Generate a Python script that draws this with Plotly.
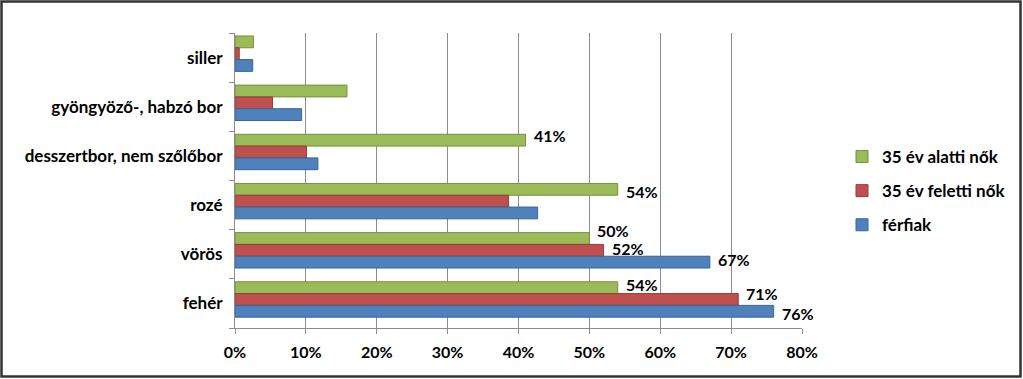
import plotly.graph_objects as go

categories = ["fehér", "vörös", "rozé", "desszertbor, nem szőlőbor", "gyöngyöző-, habzó bor", "siller"]
ferfiak = [76, 67, 42.7, 11.7, 9.4, 2.5]
felett_nok = [71, 52, 38.6, 10.1, 5.3, 0.6]
alatti_nok = [54, 50, 54, 41, 15.8, 2.6]
ferfiak_lbl = ["76%", "67%", "", "", "", ""]
felett_lbl = ["71%", "52%", "", "", "", ""]
alatti_lbl = ["54%", "50%", "54%", "41%", "", ""]
x_ticks = [0, 10, 20, 30, 40, 50, 60, 70, 80]

# label vertical nudges in pixels (layout only)
ferfiak_dy = [-5, 0, 0, 0, 0, 0]
felett_dy = [3, -1, 0, 0, 0, 0]
alatti_dy = [0, 5, -5, 2, 0, 0]

FONT = "Lato"
L, R, T, B = 235, 221, 33, 51
W, H = 1023, 379
pw, ph = W - L - R, H - T - B
band = ph / len(categories)
BW = 0.24

fig = go.Figure()
series = [
    ("35 év alatti nők", alatti_nok, alatti_lbl, alatti_dy, "#9BBB59", "#76903F", 0.20),
    ("35 év feletti nők", felett_nok, felett_lbl, felett_dy, "#C0504D", "#943C3A", -0.04),
    ("férfiak", ferfiak, ferfiak_lbl, ferfiak_dy, "#4F81BD", "#3A6496", -0.28),
]
annotations = []
for i, (name, vals, lbl, dy, col, edge, off) in enumerate(series):
    fig.add_trace(go.Bar(
        y=categories, x=vals, name=name, orientation="h",
        offset=off, width=BW,
        marker=dict(color=col, line=dict(color=edge, width=1)),
        legendgroup=f"g{i}", hoverinfo="skip",
    ))
    center_px = (off + BW / 2) * band
    for c, v, t, d in zip(categories, vals, lbl, dy):
        if t:
            annotations.append(dict(
                x=v, y=c, xref="x", yref="y", text=t, showarrow=False,
                xanchor="left", yanchor="middle", xshift=6,
                yshift=center_px + 3 + d,
                font=dict(family=FONT, size=16, color="#000000", weight="bold"),
            ))

fig.update_layout(
    width=W, height=H,
    margin=dict(l=L, r=R, t=T, b=B),
    paper_bgcolor="white", plot_bgcolor="white",
    barmode="overlay",
    font=dict(family=FONT, size=16, color="#000000"),
    showlegend=True,
    legend=dict(
        x=(842 - L) / pw, xanchor="left",
        y=(H - B - 139) / ph, yanchor="top",
        traceorder="grouped", tracegroupgap=9,
        font=dict(family=FONT, size=17, color="#000000", weight="bold"),
        bgcolor="rgba(0,0,0,0)",
    ),
    xaxis=dict(
        range=[0, 80], tickvals=x_ticks,
        ticktext=[f"{v}%" for v in x_ticks],
        showgrid=True, gridcolor="#8C8C8C", gridwidth=1,
        showline=True, linecolor="#8C8C8C", linewidth=1,
        ticks="outside", ticklen=5, tickcolor="#8C8C8C",
        tickfont=dict(family=FONT, size=16, color="#000000", weight="bold"),
        ticklabelstandoff=5,
        zeroline=False,
    ),
    yaxis=dict(
        categoryorder="array", categoryarray=categories,
        showline=True, linecolor="#8C8C8C", linewidth=1,
        ticks="outside", ticklen=5, tickcolor="#8C8C8C", tickson="boundaries",
        tickfont=dict(family=FONT, size=17, color="#000000", weight="bold"),
        ticklabelstandoff=8,
        range=[-0.5, 5.5],
    ),
    annotations=annotations,
    shapes=[dict(
        type="rect", xref="paper", yref="paper",
        x0=(1.5 - L) / pw, x1=(W - 2.5 - L) / pw,
        y0=(H - B - (H - 2.5)) / ph, y1=(H - B - 1.5) / ph,
        line=dict(color="#333333", width=2.5), fillcolor="rgba(0,0,0,0)",
        layer="above",
    )],
)

fig.write_html(
    "out.html",
    config={"displayModeBar": False},
    post_script="document.body.style.margin='0';document.body.style.overflow='hidden';",
)
